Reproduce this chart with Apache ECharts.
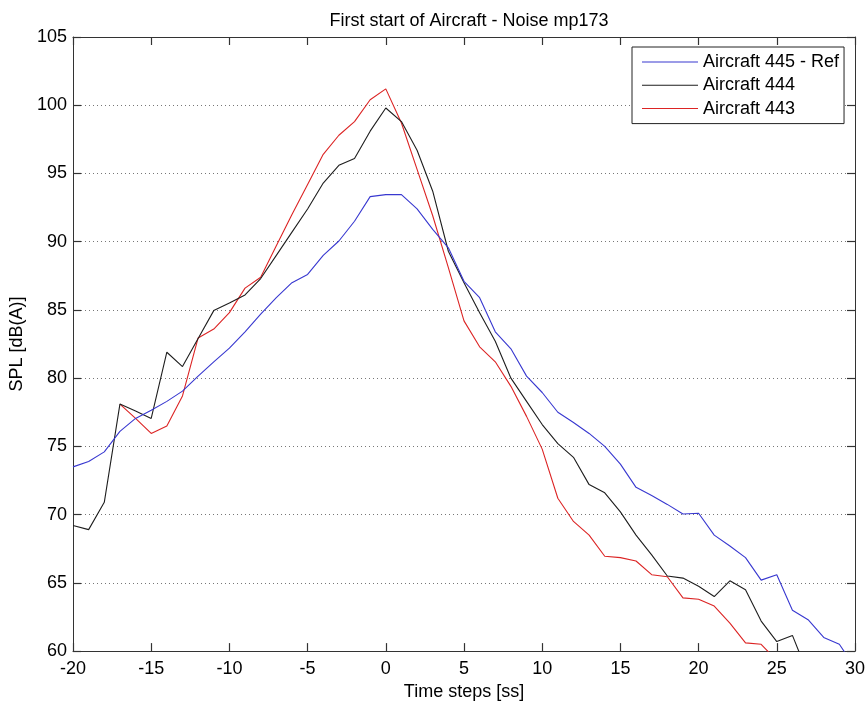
<!DOCTYPE html>
<html>
<head>
<meta charset="utf-8">
<script src="https://cdn.jsdelivr.net/npm/echarts@6/dist/echarts.min.js"></script>
<style>
html,body{margin:0;padding:0;background:#fff;}
#chart{width:868px;height:706px;}
</style>
</head>
<body>
<div id="chart"></div>
<script>
const titleText = 'First start of Aircraft - Noise mp173';
const xName = 'Time steps [ss]';
const yName = 'SPL [dB(A)]';
const seriesNames = ['Aircraft 445 - Ref', 'Aircraft 444', 'Aircraft 443'];
const steps = [-20,-19,-18,-17,-16,-15,-14,-13,-12,-11,-10,-9,-8,-7,-6,-5,-4,-3,-2,-1,0,1,2,3,4,5,6,7,8,9,10,11,12,13,14,15,16,17,18,19,20,21,22,23,24,25,26,27,28,29,30];
const ac445 = [73.5,73.9,74.6,76.1,77.05,77.65,78.3,79.05,80.15,81.2,82.2,83.4,84.7,85.9,87.0,87.6,89.0,90.05,91.5,93.3,93.45,93.45,92.4,90.9,89.55,87.1,85.9,83.4,82.15,80.15,78.95,77.5,76.75,75.95,75.0,73.7,72.0,71.4,70.75,70.05,70.1,68.5,67.7,66.85,65.2,65.6,63.0,62.3,61.0,60.5,58.8];
const ac444 = [69.2,68.9,70.9,78.1,77.6,77.05,81.9,80.85,82.9,84.95,85.5,86.1,87.3,89.0,90.7,92.4,94.3,95.6,96.1,98.1,99.8,98.8,96.7,93.7,89.3,87.0,84.8,82.7,80.0,78.3,76.6,75.2,74.2,72.2,71.6,70.2,68.5,67.05,65.5,65.35,64.75,64.0,65.15,64.5,62.2,60.7,61.15,58.3,null,null,null];
const ac443 = [null,null,null,78.1,77.05,75.95,76.5,78.7,82.95,83.6,84.8,86.6,87.4,89.7,92.0,94.2,96.4,97.8,98.8,100.4,101.2,98.7,95.3,91.9,88.1,84.2,82.3,81.2,79.4,77.2,74.8,71.2,69.5,68.5,66.95,66.85,66.6,65.6,65.45,63.9,63.8,63.3,62.05,60.6,60.5,59.3,null,null,null,null,null];
const colors = ['#3838d0', '#1e1e1e', '#dc2424'];

const font = "'Liberation Sans', Arial, sans-serif";
function pairs(vals){ return steps.map((s,i)=>[s, vals[i]]); }

const chart = echarts.init(document.getElementById('chart'), null, {renderer:'canvas'});
const axisLine = {show:true, onZero:false, lineStyle:{color:'#333', width:1}};
const tickIn = {show:true, inside:true, length:8, lineStyle:{color:'#333', width:1.2}};
const labelStyle = {color:'#000', fontSize:18, fontFamily:font};

chart.setOption({
  animation:false,
  backgroundColor:'#fff',
  title:{text:titleText, left:464, textAlign:'center', top:7,
    textStyle:{fontSize:18, fontWeight:'normal', color:'#000', fontFamily:font}},
  grid:{left:73, right:13, top:37, bottom:52, containLabel:false},
  legend:{
    data:seriesNames, orient:'vertical', left:632, top:47,
    icon:'rect', itemWidth:56, itemHeight:1, itemGap:0.3,
    padding:[3.5,5,3.5,10], borderColor:'#222', borderWidth:1, backgroundColor:'#fff',
    textStyle:{fontSize:18, color:'#000', fontFamily:font, lineHeight:23}
  },
  xAxis:[
    {type:'value', position:'bottom', min:-20, max:30, interval:5,
     name:xName, nameLocation:'middle', nameGap:30,
     nameTextStyle:{fontSize:18, color:'#000', fontFamily:font},
     axisLine:axisLine, axisTick:tickIn,
     axisLabel:Object.assign({margin:9}, labelStyle),
     splitLine:{show:false}},
    {type:'value', position:'top', min:-20, max:30, interval:5,
     axisLine:axisLine, axisTick:tickIn, axisLabel:{show:false}, splitLine:{show:false}}
  ],
  yAxis:[
    {type:'value', position:'left', min:60, max:105, interval:5,
     name:yName, nameLocation:'middle', nameGap:44,
     nameTextStyle:{fontSize:18, color:'#000', fontFamily:font},
     axisLine:axisLine, axisTick:tickIn,
     axisLabel:Object.assign({margin:6}, labelStyle),
     splitLine:{show:true, lineStyle:{color:'#777', type:[1,3], width:1}}},
    {type:'value', position:'right', min:60, max:105, interval:5,
     axisLine:axisLine, axisTick:tickIn, axisLabel:{show:false}, splitLine:{show:false}}
  ],
  series:[ac445, ac444, ac443].map((vals,i)=>({
    name:seriesNames[i], type:'line', data:pairs(vals),
    xAxisIndex:0, yAxisIndex:0,
    symbol:'none', showSymbol:false, connectNulls:false, clip:true,
    lineStyle:{color:colors[i], width:1.1}, itemStyle:{color:colors[i]},
    z: 3 - i
  }))
});
</script>
</body>
</html>
